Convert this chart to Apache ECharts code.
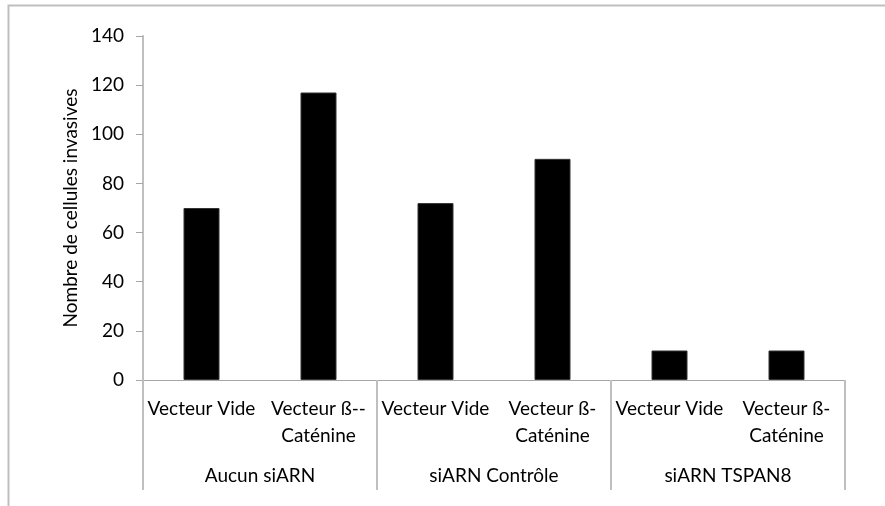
<!DOCTYPE html>
<html>
<head>
<meta charset="utf-8">
<script src="https://cdn.jsdelivr.net/npm/echarts@6/dist/echarts.min.js"></script>
<style>
  html, body { margin: 0; padding: 0; background: #fff; }
  #chart { width: 885px; height: 506px; }
</style>
</head>
<body>
<div id="chart"></div>
<script>
// Invasion assay: number of invasive cells per condition
const categories = [
  'Vecteur Vide', 'Vecteur ß--\nCaténine',
  'Vecteur Vide', 'Vecteur ß-\nCaténine',
  'Vecteur Vide', 'Vecteur ß-\nCaténine'
];
const groups = ['Aucun siARN', 'siARN Contrôle', 'siARN TSPAN8'];
const values = [70, 117, 72, 90, 12, 12];
const yTicks = { min: 0, max: 140, step: 20 };
const yTitle = 'Nombre de cellules invasives';

const FONT = 'Lato';
const FS = 19;
const AXIS_GREY = '#bfbfbf';

const chart = echarts.init(document.getElementById('chart'), null, { renderer: 'canvas' });
chart.setOption({
  animation: false,
  backgroundColor: '#fff',
  textStyle: { fontFamily: FONT },
  grid: { left: 143, right: 40, top: 36, bottom: 126, containLabel: false },
  graphic: [{
    type: 'rect',
    shape: { x: 8.5, y: 5.5, width: 900, height: 600 },
    style: { fill: 'none', stroke: AXIS_GREY, lineWidth: 2 },
    silent: true, z: -1
  }],
  xAxis: [{
    type: 'category',
    data: categories,
    position: 'bottom',
    axisLine: { show: true, lineStyle: { color: '#a6a6a6', width: 1 } },
    axisTick: { show: false },
    axisLabel: {
      interval: 0, margin: 15, color: '#000', fontFamily: FONT,
      fontSize: FS, lineHeight: 27, verticalAlign: 'top'
    }
  }, {
    type: 'category',
    data: groups,
    position: 'bottom',
    axisLine: { show: false },
    axisTick: { show: true, length: 110, interval: 0, lineStyle: { color: AXIS_GREY, width: 2 } },
    axisLabel: {
      interval: 0, margin: 86, color: '#000', fontFamily: FONT,
      fontSize: FS, verticalAlign: 'top'
    }
  }],
  yAxis: {
    type: 'value',
    min: yTicks.min, max: yTicks.max, interval: yTicks.step,
    name: yTitle,
    nameLocation: 'middle',
    nameGap: 62,
    nameRotate: 90,
    nameTextStyle: { color: '#000', fontFamily: FONT, fontSize: FS },
    axisLine: { show: true, lineStyle: { color: AXIS_GREY, width: 2 } },
    axisTick: { show: true, length: 7, lineStyle: { color: '#a6a6a6', width: 1 } },
    axisLabel: { margin: 19, color: '#000', fontFamily: FONT, fontSize: FS },
    splitLine: { show: false }
  },
  series: [{
    type: 'bar',
    data: values,
    xAxisIndex: 0,
    barWidth: 36,
    itemStyle: { color: '#000', borderColor: '#333', borderWidth: 1 }
  }]
});
</script>
</body>
</html>
